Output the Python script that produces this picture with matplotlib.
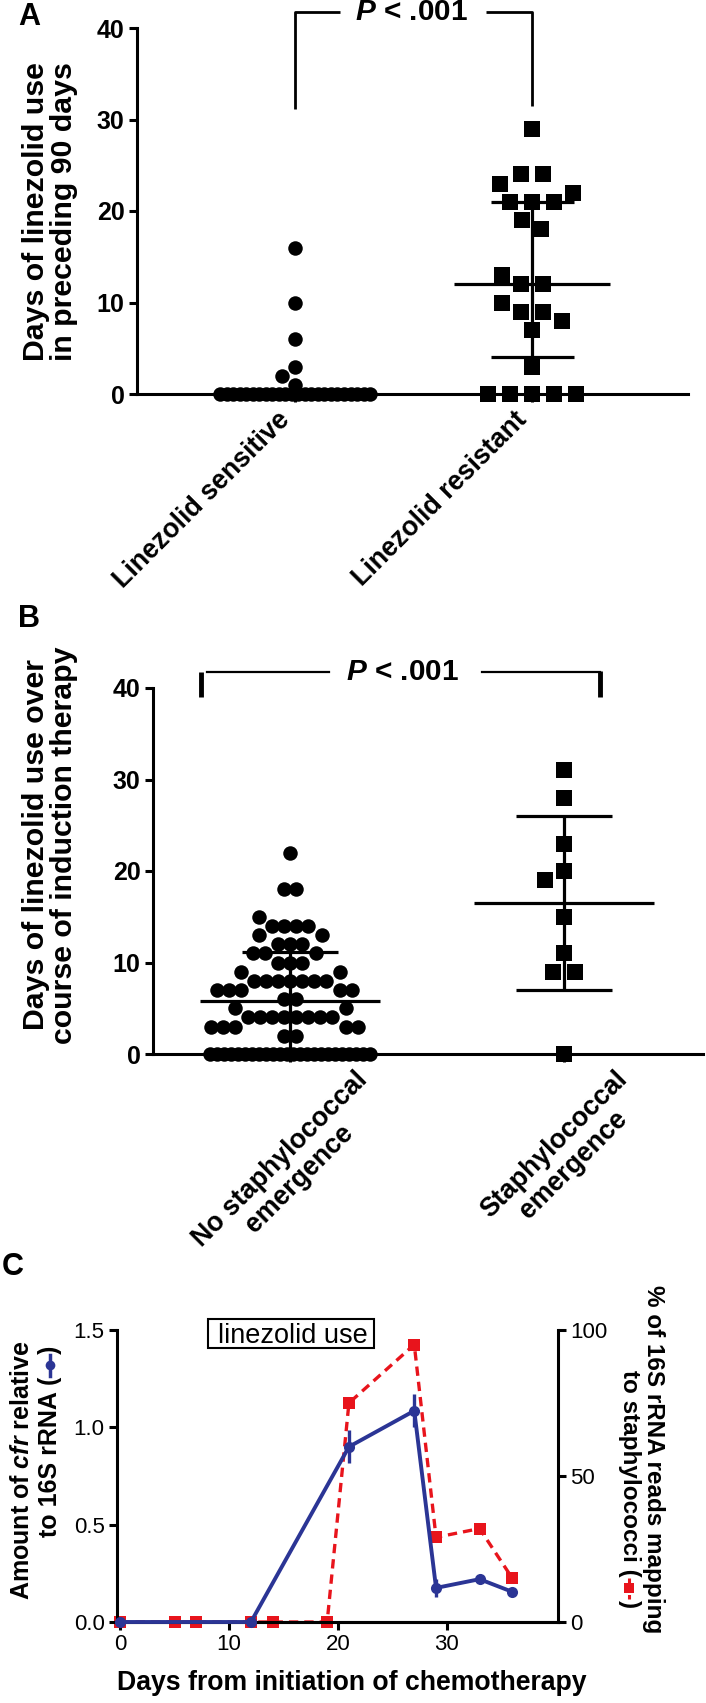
import numpy as np
import matplotlib
matplotlib.use('Agg')
import matplotlib.pyplot as plt
from matplotlib.lines import Line2D
from matplotlib.patches import Rectangle

plt.rcParams['font.family'] = ['Liberation Sans', 'DejaVu Sans']
plt.rcParams['font.weight'] = 'bold'
plt.rcParams['mathtext.fontset'] = 'custom'
plt.rcParams['mathtext.rm'] = 'Liberation Sans:bold'
plt.rcParams['mathtext.it'] = 'Liberation Sans:italic:bold'
plt.rcParams['mathtext.bf'] = 'Liberation Sans:bold'

W, H = 706, 1703

# ---- panel A: days of linezolid use in preceding 90 days
groups_a = ['Linezolid sensitive', 'Linezolid resistant']
sensitive_days = [16, 10, 6, 3, 2, 1,
                  0, 0, 0, 0, 0, 0, 0, 0, 0, 0, 0, 0,
                  0, 0, 0, 0, 0, 0, 0, 0, 0, 0, 0, 0]
resistant_days = [29, 24, 24, 23, 22, 21, 21, 21, 19, 18, 13, 12,
                  12, 10, 9, 9, 8, 7, 3, 0, 0, 0, 0, 0]
centre_a = [0, 12]   # median
low_a = [0, 4]       # interquartile range
high_a = [0, 21]

# ---- panel B: days of linezolid use over induction therapy
groups_b = ['No staphylococcal\nemergence', 'Staphylococcal\nemergence']
no_emergence_days = [22, 18, 18, 15, 14, 14, 14, 14, 13, 13, 12, 12, 12,
                     11, 11, 11, 10, 10, 10, 9, 9, 8, 8, 8, 8, 8, 8, 8,
                     7, 7, 7, 7, 7, 6, 6, 5, 5, 4, 4, 4, 4, 4, 4, 4, 4,
                     3, 3, 3, 3, 3, 2, 2,
                     0, 0, 0, 0, 0, 0, 0, 0, 0, 0, 0, 0,
                     0, 0, 0, 0, 0, 0, 0, 0, 0, 0, 0, 0]
emergence_days = [31, 28, 23, 20, 19, 15, 11, 9, 9, 0]
centre_b = [5.75, 16.5]   # mean
low_b = [0.3, 6.95]       # mean - SD
high_b = [11.2, 26.05]    # mean + SD

# ---- panel C: time course
cfr_days = [0, 12, 21, 27, 29, 33, 36]
cfr_amount = [0.0, 0.0, 0.90, 1.085, 0.175, 0.22, 0.155]
cfr_err = [0.0, 0.0, 0.085, 0.085, 0.045, 0.015, 0.012]
staph_days = [0, 5, 7, 12, 14, 19, 21, 27, 29, 33, 36]
staph_pct = [0, 0, 0, 0, 0, 0, 75, 95, 29, 32, 15]

BLUE = '#2b3595'
RED = '#e8141c'


def fx(x):
    return x / W


def fy(y):
    return 1 - y / H


def swarm_offsets(values, sx, sy, gap, clear, half):
    """Simple dot-plot layout in pixels: rows of equal values, no overlap with neighbours."""
    values = np.asarray(values, dtype=float)
    offsets = np.zeros(len(values))
    rows = {}
    for i, v in enumerate(values):
        rows.setdefault(v, []).append(i)
    steps = np.arange(0, half + 0.01, 0.5)
    cands = [c for a in steps for c in ((-a, a) if a else (0.0,))]
    placed = []
    for v in sorted(rows, key=lambda k: (-len(rows[k]), -k)):
        idx = rows[v]
        n = len(idx)
        y = v * sy
        if (n - 1) * gap > 2 * half:
            offsets[idx] = np.linspace(-half, half, n) / sx
            continue

        def ok(x, row):
            if any(abs(x - r) < gap - 1e-6 for r in row):
                return False
            return all((x - px) ** 2 + (y - py) ** 2 >= clear ** 2 - 1e-6
                       for px, py in placed)

        block = list((np.arange(n) - (n - 1) / 2) * gap)
        if all(ok(b, []) for b in block):
            row = block
        else:
            row = []
            for _ in range(n):
                for c in cands:
                    if ok(c, row):
                        row.append(c)
                        break
                else:
                    row.append(row[-1] + gap if row else 0.0)
        offsets[idx] = np.array(row) / sx
        placed += [(x, y) for x in row]
    return offsets


def dot_panel(ax, data, markers, sizes, gaps, clears, halfs, centre, low, high):
    ax.set_ylim(0, 40)
    p = ax.transData.transform([[0, 0], [1, 1]])
    sx, sy = p[1, 0] - p[0, 0], p[1, 1] - p[0, 1]
    pos = np.arange(1, len(data) + 1)
    for x0, vals, m, s, g, c, h in zip(pos, data, markers, sizes, gaps, clears, halfs):
        off = swarm_offsets(vals, sx, sy, g, c, h)
        ax.plot(x0 + off, vals, ls='none', marker=m, ms=s * 0.72, mew=0,
                color='black', clip_on=False, zorder=3)
    ax.hlines(centre, pos - 0.33, pos + 0.33, color='black', lw=2.3, zorder=4)
    ax.hlines(low, pos - 0.175, pos + 0.175, color='black', lw=2.3, zorder=4)
    ax.hlines(high, pos - 0.175, pos + 0.175, color='black', lw=2.3, zorder=4)
    ax.vlines(pos, low, high, color='black', lw=2.3, zorder=4)
    ax.set_yticks([0, 10, 20, 30, 40])
    ax.set_xticks(pos)
    for side in ['top', 'right']:
        ax.spines[side].set_visible(False)
    for side in ['left', 'bottom']:
        ax.spines[side].set_linewidth(2.2)
    ax.tick_params(direction='out', length=6, width=2.2, labelsize=18, pad=3)


fig = plt.figure(figsize=(W / 100, H / 100), dpi=100)

# ---------------- A
axA = fig.add_axes([fx(137), fy(394), (688 - 137) / W, (394 - 28) / H])
axA.set_xlim(0.333, 2.658)
dot_panel(axA, [sensitive_days, resistant_days], ['o', 's'], [14.5, 15.5],
          [12, 22], [16, 21], [75, 80], centre_a, low_a, high_a)
axA.set_xticklabels(groups_a, rotation=45, ha='right', va='top', fontsize=19)
bk = dict(color='black', lw=2.0, clip_on=False, solid_capstyle='butt')
axA.plot([1.0, 1.0, 1.19], [31.1, 41.75, 41.75], **bk)
axA.plot([1.806, 2.0, 2.0], [41.75, 41.75, 31.5], **bk)
pA = axA.text(1.49, 41.75, '$P$ < .001', ha='center', va='center', fontsize=20)
fig.text(fx(29), fy(17), 'A', fontsize=22, ha='center', va='center')
ylA = fig.text(fx(50), fy(212), 'Days of linezolid use\nin preceding 90 days',
               rotation=90, ha='center', va='center', fontsize=21.5, linespacing=1.0)

# ---------------- B
axB = fig.add_axes([fx(153), fy(1054), (703 - 153) / W, (1054 - 688) / H])
axB.set_xlim(0.5, 2.507)
dot_panel(axB, [no_emergence_days, emergence_days], ['o', 's'], [14.5, 15.5],
          [12, 22], [16, 21], [80, 80], centre_b, low_b, high_b)
axB.set_xticklabels(groups_b, rotation=45, ha='center', va='top', fontsize=19,
                    multialignment='center', linespacing=1.1)
axB.plot([0.675, 0.675], [39.0, 41.75], color='black', lw=3.5, clip_on=False,
         solid_capstyle='butt')
axB.plot([0.697, 1.142], [41.75, 41.75], color='black', lw=1.6, clip_on=False)
axB.plot([1.70, 2.13], [41.75, 41.75], color='black', lw=1.6, clip_on=False)
axB.plot([2.13, 2.13], [41.9, 39.0], color='black', lw=3.5, clip_on=False,
         solid_capstyle='butt')
pB = axB.text(1.41, 41.75, '$P$ < .001', ha='center', va='center', fontsize=20)
fig.text(fx(29), fy(619), 'B', fontsize=22, ha='center', va='center')
ylB = fig.text(fx(50), fy(845), 'Days of linezolid use over\ncourse of induction therapy',
               rotation=90, ha='center', va='center', fontsize=21.5, linespacing=1.0)

# ---------------- C
axC = fig.add_axes([fx(117), fy(1622), (558 - 117) / W, (1622 - 1330) / H])
axR = axC.twinx()
axC.set_zorder(2)
axC.patch.set_visible(False)
axR.plot(staph_days, staph_pct, color=RED, lw=2.4, dashes=(2.8, 1.8),
         marker='s', ms=8, mew=0, clip_on=False, zorder=3)
axC.errorbar(cfr_days, cfr_amount, yerr=cfr_err, color=BLUE, lw=2.8, marker='o',
             ms=8, mew=0, capsize=5, elinewidth=2.4, capthick=2.6,
             clip_on=False, zorder=4)
axC.set_xlim(-0.3, 40.2)
axC.set_ylim(0, 1.5)
axR.set_ylim(0, 100)
axC.set_xticks([0, 10, 20, 30])
axC.set_yticks([0, 0.5, 1.0, 1.5])
axC.set_yticklabels(['0.0', '0.5', '1.0', '1.5'])
axR.set_yticks([0, 50, 100])
for a in (axC, axR):
    a.spines['top'].set_visible(False)
    for side in ['left', 'right', 'bottom']:
        a.spines[side].set_linewidth(2.2)
    a.tick_params(direction='out', length=6, width=2.2, labelsize=16, pad=3)
    for lab in a.get_xticklabels() + a.get_yticklabels():
        lab.set_fontweight('normal')
axR.spines['left'].set_visible(False)
axC.spines['right'].set_visible(False)

axC.add_patch(Rectangle((8.07, 1.4075), 15.23, 0.149, fill=False, ec='black',
                        lw=1.5, clip_on=False, zorder=5))
use_txt = axC.text(15.87, 1.433, 'linezolid use', ha='center', va='baseline',
                   fontsize=19.5, fontweight='normal', zorder=6)

fig.text(fx(13), fy(1267), 'C', fontsize=22, ha='center', va='center')
xlC = fig.text(fx(352), fy(1683), 'Days from initiation of chemotherapy', ha='center',
               va='center', fontsize=19)

left1 = fig.text(fx(22), fy(1340), 'Amount of $cfr$ relative', rotation=90,
                 ha='center', va='top', fontsize=18)
left2 = fig.text(fx(50), fy(1537), 'to 16S rRNA (', rotation=90, ha='center',
                 va='bottom', fontsize=18)
right1 = fig.text(fx(654), fy(1459), '% of 16S rRNA reads mapping', rotation=270,
                  ha='center', va='center', fontsize=18)
right2 = fig.text(fx(629), fy(1370), 'to staphylococci (', rotation=270,
                  ha='center', va='top', fontsize=18)

# size the texts to the lengths measured on the original figure (pixels)
fig.canvas.draw()
r = fig.canvas.get_renderer()


def fit(t, target, dim):
    bb = t.get_window_extent(r)
    size = bb.width if dim == 'w' else bb.height
    t.set_fontsize(t.get_fontsize() * target / size)
    return t.get_fontsize()


fit(ylA, 300, 'h')
ylB.set_fontsize(ylA.get_fontsize())
fit(pA, 113, 'w')
pB.set_fontsize(pA.get_fontsize())
fs_tick = fit(axA.get_xticklabels()[0], 186, 'w')
for lab in axA.get_xticklabels() + axB.get_xticklabels():
    lab.set_fontsize(fs_tick)
fit(use_txt, 150, 'w')
fit(xlC, 470, 'w')
fs_c = fit(left1, 260, 'h')
left2.set_fontsize(fs_c)
fit(right1, 348, 'h')
right2.set_fontsize(right1.get_fontsize())

fig.canvas.draw()
bb = left2.get_window_extent(r)
top = bb.y1
fig.add_artist(Line2D([fx(50)] * 2, [(top + 1) / H, (top + 22) / H], color=BLUE,
                      lw=2.5, transform=fig.transFigure))
fig.add_artist(Line2D([fx(50)], [(top + 11.5) / H], color=BLUE, marker='o', ms=7,
                      mew=0, transform=fig.transFigure))
fig.text(fx(50), (top + 23) / H, ')', rotation=90, ha='center', va='bottom',
         fontsize=fs_c)

bb = right2.get_window_extent(r)
bot = bb.y0
fig.add_artist(Line2D([fx(629)] * 2, [(bot - 1) / H, (bot - 22) / H], color=RED,
                      lw=2.2, dashes=(1.5, 1.2), transform=fig.transFigure))
fig.add_artist(Line2D([fx(629)], [(bot - 11.5) / H], color=RED, marker='s', ms=7,
                      mew=0, transform=fig.transFigure))
fig.text(fx(629), (bot - 23) / H, ')', rotation=270, ha='center', va='top',
         fontsize=right1.get_fontsize())

fig.savefig('out.png', dpi=100)
